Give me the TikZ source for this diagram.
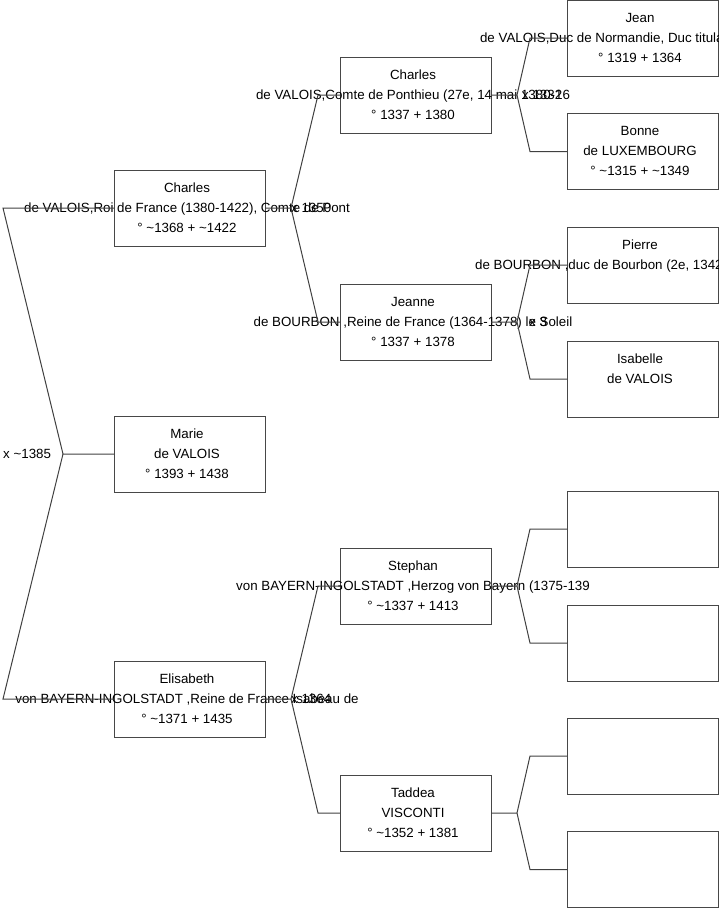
\documentclass[tikz,border=0pt]{standalone}
\usepackage{fontspec}
\setmainfont{Liberation Sans}
\newcommand\myt{\textasciitilde}
\newcommand\st{\rule[-6pt]{0pt}{20pt}}
\definecolor{boxc}{gray}{0.28}
\definecolor{linec}{gray}{0.25}
\begin{document}
\begin{tikzpicture}[x=1pt,y=-1pt,
  person/.style={draw=boxc,line width=1pt,minimum width=151pt,minimum height=76pt,inner sep=0pt,outer sep=0pt},
  txt/.style={align=center,font=\fontsize{13.33}{20}\selectfont,inner sep=0pt,text=black},
  mlab/.style={anchor=base west,font=\fontsize{13.33}{20}\selectfont,inner sep=0pt,text=black},
  link/.style={draw=linec,line width=1pt}]
\useasboundingbox (0,0) rectangle (719,908);
% generation 1
\node[person] (c1) at (189.5,208) {};
\node[person] (m) at (189.5,454) {};
\node[person] (e1) at (189.5,699) {};
% generation 2
\node[person] (c2) at (415.5,95) {};
\node[person] (j2) at (415.5,322) {};
\node[person] (s2) at (415.5,586) {};
\node[person] (t2) at (415.5,813) {};
% generation 3
\node[person] (g1) at (642.5,38) {};
\node[person] (g2) at (642.5,151.5) {};
\node[person] (g3) at (642.5,265) {};
\node[person] (g4) at (642.5,379) {};
\node[person] (g5) at (642.5,529) {};
\node[person] (g6) at (642.5,643) {};
\node[person] (g7) at (642.5,756) {};
\node[person] (g8) at (642.5,869.5) {};
% texts
\node[txt] (c1t) at ([xshift=-2.5pt]c1.center) {\st Charles\\\st de VALOIS,Roi de France (1380-1422), Comte de Pont\\\st ° \myt1368 + \myt1422};
\node[txt] (mt) at ([xshift=-2.5pt]m.center) {\st Marie\\\st de VALOIS\\\st ° 1393 + 1438};
\node[txt] (e1t) at ([xshift=-2.5pt]e1.center) {\st Elisabeth\\\st von BAYERN-INGOLSTADT ,Reine de France Isabeau de\\\st ° \myt1371 + 1435};
\node[txt] (c2t) at ([xshift=-2.5pt]c2.center) {\st Charles\\\st de VALOIS,Comte de Ponthieu (27e, 14 mai 1380-16\\\st ° 1337 + 1380};
\node[txt] (j2t) at ([xshift=-2.5pt]j2.center) {\st Jeanne\\\st de BOURBON ,Reine de France (1364-1378) le Soleil\\\st ° 1337 + 1378};
\node[txt] (s2t) at ([xshift=-2.5pt]s2.center) {\st Stephan\\\st von BAYERN-INGOLSTADT ,Herzog von Bayern (1375-139\\\st ° \myt1337 + 1413};
\node[txt] (t2t) at ([xshift=-2.5pt]t2.center) {\st Taddea\\\st VISCONTI\\\st ° \myt1352 + 1381};
\node[txt] (g1t) at ([xshift=-2.5pt]g1.center) {\st Jean\\\st de VALOIS,Duc de Normandie, Duc titulaire de Bretag\\\st ° 1319 + 1364};
\node[txt] (g2t) at ([xshift=-2.5pt]g2.center) {\st Bonne\\\st de LUXEMBOURG\\\st ° \myt1315 + \myt1349};
\node[txt] (g3t) at ([xshift=-2.5pt]g3.center) {\st Pierre\\\st de BOURBON ,duc de Bourbon (2e, 1342-1356), comte\\\st};
\node[txt] (g4t) at ([xshift=-2.5pt]g4.center) {\st Isabelle\\\st de VALOIS\\\st};
% marriage labels
\node[mlab] (lr) at (3,458) {x \myt1385};
\node[mlab] (la) at (291,212) {x 1350};
\node[mlab] (lb) at (291,703) {x 1364};
\node[mlab] (lc) at (522,99) {x 1332};
\node[mlab] (ld) at (529,326) {x 3};
% root fork
\coordinate (fr) at ([xshift=-51pt]m.west);
\draw[link] (m.west) -- (fr) -- ([xshift=-111pt]c1.west) -- (c1.west);
\draw[link] (fr) -- ([xshift=-111pt]e1.west) -- (e1.west);
% gen1 -> gen2
\coordinate (fa) at ([xshift=26pt]c1.east);
\draw[link] (c1.east) -- (fa) -- ([xshift=-22pt]c2.west) -- (c2.west);
\draw[link] (fa) -- ([xshift=-22pt]j2.west) -- (j2.west);
\coordinate (fb) at ([xshift=26pt]e1.east);
\draw[link] (e1.east) -- (fb) -- ([xshift=-22pt]s2.west) -- (s2.west);
\draw[link] (fb) -- ([xshift=-22pt]t2.west) -- (t2.west);
% gen2 -> gen3
\coordinate (fc) at ([xshift=26pt]c2.east);
\draw[link] (c2.east) -- (fc) -- ([xshift=-37pt]g1.west) -- (g1.west);
\draw[link] (fc) -- ([xshift=-37pt]g2.west) -- (g2.west);
\coordinate (fd) at ([xshift=26pt]j2.east);
\draw[link] (j2.east) -- (fd) -- ([xshift=-37pt]g3.west) -- (g3.west);
\draw[link] (fd) -- ([xshift=-37pt]g4.west) -- (g4.west);
\coordinate (fe) at ([xshift=26pt]s2.east);
\draw[link] (s2.east) -- (fe) -- ([xshift=-37pt]g5.west) -- (g5.west);
\draw[link] (fe) -- ([xshift=-37pt]g6.west) -- (g6.west);
\coordinate (ff) at ([xshift=26pt]t2.east);
\draw[link] (t2.east) -- (ff) -- ([xshift=-37pt]g7.west) -- (g7.west);
\draw[link] (ff) -- ([xshift=-37pt]g8.west) -- (g8.west);
\end{tikzpicture}
\end{document}
